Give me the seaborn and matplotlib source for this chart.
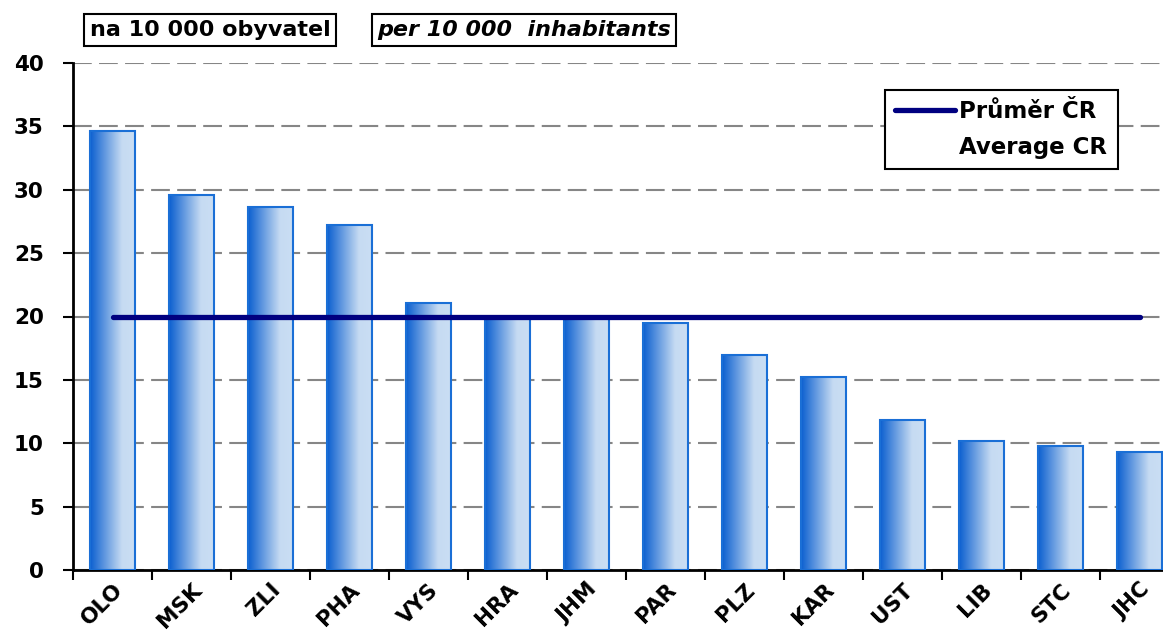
import numpy as np
import pandas as pd
import seaborn as sns
import matplotlib
matplotlib.use("Agg")
import matplotlib.pyplot as plt
from matplotlib.colors import LinearSegmentedColormap
from matplotlib.lines import Line2D

# data
regions = ["OLO", "MSK", "ZLI", "PHA", "VYS", "HRA", "JHM",
           "PAR", "PLZ", "KAR", "UST", "LIB", "STC", "JHC"]
values = [34.6, 29.6, 28.6, 27.2, 21.1, 20.0, 19.9,
          19.5, 16.95, 15.2, 11.8, 10.2, 9.8, 9.3]
average_cr = 20.0
y_ticks = [0, 5, 10, 15, 20, 25, 30, 35, 40]

df = pd.DataFrame({"region": regions, "value": values})

sns.set_theme(style="white")
plt.rcParams["font.family"] = ["DejaVu Sans"]
plt.rcParams["text.color"] = "black"
plt.rcParams["xtick.color"] = "black"
plt.rcParams["ytick.color"] = "black"

fig = plt.figure(figsize=(11.63, 6.36), dpi=100)
ax = fig.add_axes([73 / 1163, 66 / 636, (1179 - 73) / 1163, (570 - 63) / 636])

sns.barplot(data=df, x="region", y="value", ax=ax, width=0.57,
            color="#1A6FD6", edgecolor="#1A6FD6", linewidth=1.5, zorder=3)

# horizontal gradient fill inside every bar
grad = LinearSegmentedColormap.from_list(
    "bar", [(0, "#0B5FD0"), (0.7, "#C6DBF2"), (1, "#CADEF4")])
g = np.linspace(0, 1, 256).reshape(1, -1)
for p in ax.patches:
    x, y = p.get_x(), p.get_y()
    w, h = p.get_width(), p.get_height()
    p.set_facecolor("none")
    ax.imshow(g, cmap=grad, extent=[x, x + w, y, y + h], aspect="auto",
              origin="lower", zorder=2.5, interpolation="bilinear")

# average line
ax.plot([0, len(regions) - 1], [average_cr, average_cr], color="#000080",
        linewidth=3.8, solid_capstyle="round", zorder=4)

ax.set_xlim(-0.5, len(regions) - 0.5)
ax.set_ylim(0, 40)
ax.set_yticks(y_ticks)
ax.set_yticklabels([str(t) for t in y_ticks], fontsize=15.5, fontweight="bold")
ax.set_xticks(range(len(regions)))
ax.set_xticklabels(regions, rotation=45, ha="right", rotation_mode="anchor",
                   fontsize=15.5, fontweight="bold")
ax.set_xlabel("")
ax.set_ylabel("")

# ticks between categories on the x axis
ax.set_xticks(np.arange(-0.5, len(regions), 1), minor=True)
ax.tick_params(axis="x", which="major", length=0, pad=7)
ax.tick_params(axis="x", which="minor", length=7, width=1.5, direction="out",
               color="black", bottom=True)
ax.tick_params(axis="y", length=7, width=1.5, direction="out", color="black",
               left=True, pad=14)

ax.yaxis.grid(True, linestyle=(0, (9, 3.5)), color="#868686", linewidth=1.5,
              zorder=0)
ax.set_axisbelow(True)
for s in ["top", "right"]:
    ax.spines[s].set_visible(False)
for s in ["left", "bottom"]:
    ax.spines[s].set_color("black")
    ax.spines[s].set_linewidth(2)

# legend: line beside the Czech label, English label below it
handle = Line2D([], [], color="#000080", linewidth=3.8, solid_capstyle="round")
blank = Line2D([], [], color="none")
leg = ax.legend([handle, blank], ["Průměr ČR", "Average CR"], loc="upper left",
                bbox_to_anchor=(885 / 1163, 1 - 90 / 636),
                bbox_transform=fig.transFigure, borderaxespad=0,
                fancybox=False, edgecolor="black", framealpha=1,
                handlelength=2.6, handletextpad=0.2, borderpad=0.45,
                labelspacing=0.55, prop={"size": 16.5, "weight": "bold"})
leg.get_frame().set_linewidth(1.5)

# header boxes
box = dict(boxstyle="square,pad=0.25", facecolor="white", edgecolor="black",
           linewidth=1.5)
fig.text(210 / 1163, 1 - 30 / 636, "na 10 000 obyvatel", fontsize=16,
         fontweight="bold", va="center", ha="center", bbox=box)
fig.text(524 / 1163, 1 - 30 / 636, "per 10 000  inhabitants", fontsize=16,
         fontweight="bold", style="italic", va="center", ha="center", bbox=box)

fig.savefig("out.png", dpi=100)
